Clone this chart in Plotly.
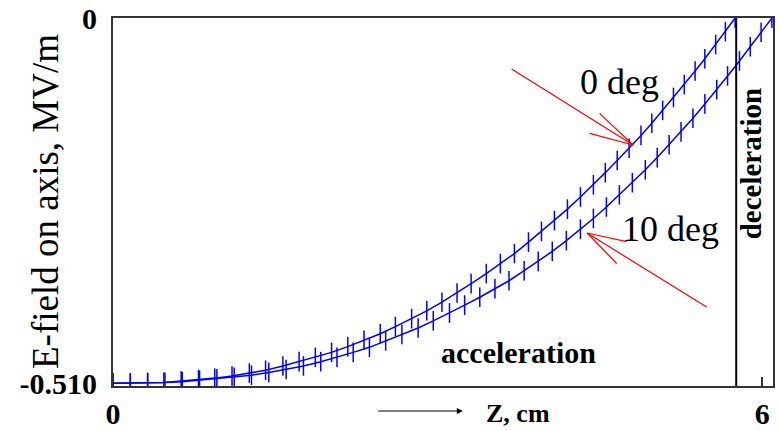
import plotly.graph_objects as go

# 0 deg curve (z in cm, E in MV/m)
z_0deg = [0.00, 0.16, 0.32, 0.47, 0.63, 0.79, 0.94, 1.10, 1.26, 1.41, 1.57, 1.72, 1.87, 2.02,
          2.17, 2.32, 2.47, 2.61, 2.76, 2.90, 3.04, 3.18, 3.31, 3.45, 3.58, 3.71, 3.84, 3.96,
          4.08, 4.20, 4.32, 4.44, 4.55, 4.66, 4.77, 4.88, 4.98, 5.08, 5.18, 5.28, 5.38, 5.47,
          5.57, 5.66, 5.75]
e_0deg = [-0.510, -0.510, -0.509, -0.509, -0.507, -0.505, -0.503, -0.500, -0.496, -0.492,
          -0.486, -0.480, -0.474, -0.467, -0.459, -0.450, -0.441, -0.431, -0.420, -0.409,
          -0.397, -0.384, -0.371, -0.357, -0.343, -0.329, -0.313, -0.298, -0.283, -0.267,
          -0.250, -0.233, -0.216, -0.199, -0.182, -0.164, -0.147, -0.129, -0.111, -0.093,
          -0.074, -0.057, -0.037, -0.019, 0.000]

# 10 deg curve
z_10deg = [0.00, 0.16, 0.32, 0.48, 0.64, 0.80, 0.96, 1.12, 1.28, 1.44, 1.60, 1.76, 1.92, 2.07,
           2.22, 2.37, 2.52, 2.67, 2.82, 2.96, 3.11, 3.25, 3.39, 3.53, 3.66, 3.80, 3.93, 4.06,
           4.19, 4.32, 4.44, 4.56, 4.68, 4.80, 4.92, 5.03, 5.14, 5.25, 5.36, 5.47, 5.58, 5.68,
           5.79, 5.89, 5.99, 6.09]
e_10deg = [-0.510, -0.510, -0.510, -0.509, -0.508, -0.506, -0.504, -0.502, -0.499, -0.495,
           -0.491, -0.486, -0.480, -0.474, -0.467, -0.460, -0.451, -0.442, -0.433, -0.423,
           -0.412, -0.401, -0.390, -0.378, -0.367, -0.353, -0.340, -0.326, -0.311, -0.295,
           -0.280, -0.264, -0.247, -0.230, -0.212, -0.195, -0.177, -0.159, -0.140, -0.120,
           -0.100, -0.081, -0.060, -0.040, -0.020, 0.000]

x_tick_vals = [0, 6]
x_tick_text = ["<b>0</b>", "<b>6</b>"]
y_tick_vals = [-0.510, 0]
y_tick_text = ["<b>-0.510</b>", "<b>0</b>"]
z_boundary = 5.76

BLUE = "#0000FF"
SERIF = "Liberation Serif"

fig = go.Figure()
for zs, es, name in [(z_0deg, e_0deg, "0 deg"), (z_10deg, e_10deg, "10 deg")]:
    fig.add_trace(go.Scatter(
        x=zs, y=es, mode="lines+markers", name=name,
        line=dict(color=BLUE, width=1.5),
        marker=dict(symbol="line-ns", size=14, line=dict(color=BLUE, width=1.5)),
        showlegend=False,
    ))

fig.add_shape(type="line", x0=z_boundary, x1=z_boundary, y0=0, y1=1,
              xref="x", yref="paper", line=dict(color="black", width=2))

ann = []
# red arrows (0 deg)
tip0 = (4.807, -0.1774)
for ax, ay in [(-123, -77), (-45, -12), (-35, -33)]:
    ann.append(dict(x=tip0[0], y=tip0[1], xref="x", yref="y", ax=ax, ay=ay,
                    showarrow=True, arrowhead=0, arrowwidth=1.2, arrowcolor="red", text=""))
tip10 = (4.382, -0.3003)
for ax, ay in [(121, 75), (41, 9), (31, 32)]:
    ann.append(dict(x=tip10[0], y=tip10[1], xref="x", yref="y", ax=ax, ay=ay,
                    showarrow=True, arrowhead=0, arrowwidth=1.2, arrowcolor="red", text=""))

def label(x, y, text, size, angle=0):
    return dict(x=x, y=y, xref="paper", yref="paper", text=text, showarrow=False,
                xanchor="center", yanchor="middle", textangle=angle, borderpad=0,
                font=dict(family=SERIF, size=size, color="black"))

ann += [
    label(0.767, 0.826, "0 deg", 36),
    label(0.845, 0.427, "10 deg", 36),
    label(0.614, 0.092, "<b>acceleration</b>", 30),
    label(0.967, 0.603, "<b>deceleration</b>", 29, -90),
    label(0.614, -0.076, "<b>Z, cm</b>", 26),
    label(-0.103, 0.5, "E-field on axis, MV/m", 37, -90),
    dict(x=0.530, y=-0.068, xref="paper", yref="paper", ax=-86, ay=0, text="",
         showarrow=True, arrowhead=2, arrowsize=1, arrowwidth=1.2, arrowcolor="black"),
]

fig.update_layout(
    width=779, height=431,
    margin=dict(l=113, r=6, t=18, b=45, autoexpand=False),
    paper_bgcolor="white", plot_bgcolor="white",
    annotations=ann,
    font=dict(family=SERIF, color="black"),
)
fig.update_xaxes(range=[0, 6.10], tickvals=x_tick_vals, ticktext=x_tick_text,
                 automargin=False,
                 showgrid=False, zeroline=False, showline=True, mirror=True,
                 linecolor="#333333", linewidth=2, ticks="inside", ticklen=9,
                 tickcolor="#333333", tickwidth=1.5,
                 tickfont=dict(family=SERIF, size=30, color="black"))
fig.update_yaxes(range=[-0.514, 0.0], tickvals=y_tick_vals, ticktext=y_tick_text,
                 automargin=False, ticklabelstandoff=8,
                 showgrid=False, zeroline=False, showline=True, mirror=True,
                 linecolor="#333333", linewidth=2, ticks="",
                 tickfont=dict(family=SERIF, size=30, color="black"))

fig.write_html("out.html", config={"displayModeBar": False},
               post_script="document.body.style.margin='0';document.body.style.padding='0';"
                           "document.documentElement.style.overflow='hidden';")
